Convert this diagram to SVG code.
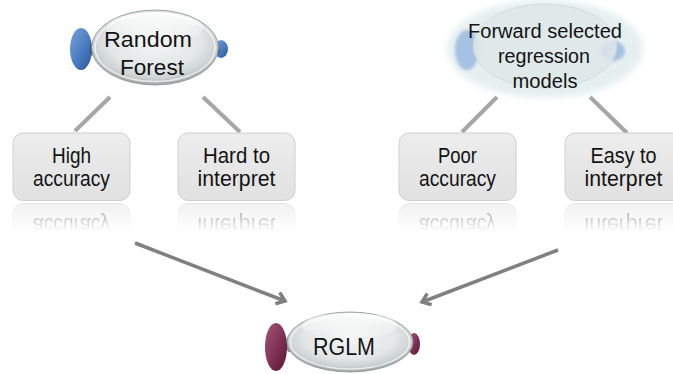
<svg xmlns="http://www.w3.org/2000/svg" xmlns:xlink="http://www.w3.org/1999/xlink" width="673" height="374" viewBox="0 0 673 374">
  <style>
    .lbl { font-family: "Liberation Sans", Arial, sans-serif; fill: #141414; text-anchor: middle; }
    .box { fill: url(#boxFill); stroke: #cfcfcf; stroke-width: 1; }
    .stem { stroke: #a6a6a6; stroke-width: 4; fill: none; }
    .arrow { stroke: #808080; stroke-width: 3.5; fill: none; marker-end: url(#chevron); }
    .pod { fill: url(#podFill); stroke: #8c9393; stroke-width: 0.8; }
    .rim { fill: none; stroke: #ffffff; stroke-opacity: 0.7; stroke-width: 1.5; }
    .gloss { fill: url(#glossFill); }
  </style>
  <defs>
    <linearGradient id="boxFill" x1="0" y1="0" x2="0" y2="1">
      <stop offset="0" stop-color="#ededed"/>
      <stop offset="1" stop-color="#e1e1e1"/>
    </linearGradient>
    <radialGradient id="podFill" cx="0.5" cy="0.42" r="0.6">
      <stop offset="0" stop-color="#f4f6f6"/>
      <stop offset="0.6" stop-color="#e3e7e7"/>
      <stop offset="0.82" stop-color="#ccd1d1"/>
      <stop offset="1" stop-color="#8f9696"/>
    </radialGradient>
    <linearGradient id="glossFill" x1="0" y1="0" x2="0" y2="1">
      <stop offset="0" stop-color="#ffffff" stop-opacity="0.9"/>
      <stop offset="1" stop-color="#ffffff" stop-opacity="0"/>
    </linearGradient>
    <linearGradient id="blueCap" x1="0" y1="0" x2="1" y2="1">
      <stop offset="0" stop-color="#7aa3dc"/>
      <stop offset="0.6" stop-color="#4677bd"/>
      <stop offset="1" stop-color="#2c558f"/>
    </linearGradient>
    <linearGradient id="wineCap" x1="0" y1="0" x2="1" y2="1">
      <stop offset="0" stop-color="#a5577a"/>
      <stop offset="0.6" stop-color="#7a2d50"/>
      <stop offset="1" stop-color="#55182f"/>
    </linearGradient>
    <linearGradient id="fadeGrad" gradientUnits="userSpaceOnUse" x1="0" y1="202" x2="0" y2="232">
      <stop offset="0" stop-color="#fff" stop-opacity="0.5"/>
      <stop offset="1" stop-color="#fff" stop-opacity="0"/>
    </linearGradient>
    <mask id="fade" maskUnits="userSpaceOnUse" x="0" y="0" width="673" height="374">
      <rect x="0" y="202" width="673" height="32" fill="url(#fadeGrad)"/>
    </mask>
    <filter id="soft" x="-20%" y="-20%" width="140%" height="140%">
      <feGaussianBlur stdDeviation="3"/>
    </filter>
    <filter id="softer" x="-30%" y="-30%" width="160%" height="160%">
      <feGaussianBlur stdDeviation="1.5"/>
    </filter>
    <marker id="chevron" markerUnits="userSpaceOnUse" markerWidth="16" markerHeight="16" refX="10" refY="7" orient="auto">
      <path d="M2,1 L10,7 L2,13" fill="none" stroke="#808080" stroke-width="3.5" stroke-linejoin="miter"/>
    </marker>
  </defs>

  <!-- connectors -->
  <g id="connectors">
    <line class="stem" x1="110" y1="97" x2="75" y2="131"/>
    <line class="stem" x1="203" y1="97" x2="240" y2="132"/>
    <line class="stem" x1="497" y1="97" x2="462" y2="132"/>
    <line class="stem" x1="590" y1="97" x2="627" y2="133"/>
    <line class="arrow" x1="135" y1="243" x2="285" y2="301"/>
    <line class="arrow" x1="558" y1="250" x2="422" y2="302"/>
  </g>

  <!-- Random Forest -->
  <g id="node-random-forest">
    <ellipse cx="81" cy="49" rx="11" ry="21" fill="url(#blueCap)"/>
    <ellipse cx="221" cy="49" rx="7" ry="9" fill="url(#blueCap)"/>
    <ellipse cx="93" cy="49" rx="3" ry="7" fill="#333" opacity="0.6"/>
    <ellipse cx="217" cy="49" rx="2.5" ry="6" fill="#333" opacity="0.6"/>
    <ellipse class="pod" cx="155" cy="47.5" rx="63.5" ry="37.5"/>
    <ellipse class="rim" cx="155" cy="47.5" rx="60" ry="34"/>
    <ellipse class="gloss" cx="155" cy="28" rx="48" ry="16"/>
    <text class="lbl" x="148" y="47" font-size="22.5" textLength="88" lengthAdjust="spacingAndGlyphs">Random</text>
    <text class="lbl" x="152" y="75" font-size="22.5" textLength="64" lengthAdjust="spacingAndGlyphs">Forest</text>
  </g>

  <!-- Forward selected regression models -->
  <g id="node-forward">
    <ellipse cx="545" cy="49" rx="98" ry="49" fill="#e6eff0" filter="url(#soft)"/>
    <ellipse cx="467" cy="50" rx="12" ry="20" fill="#95b6e0" opacity="0.8" filter="url(#softer)"/>
    <ellipse cx="613" cy="51" rx="12" ry="10" fill="#95b6e0" opacity="0.8" filter="url(#softer)"/>
    <ellipse cx="545" cy="46" rx="72" ry="42" fill="#dfe8e8" stroke="#cfdada" stroke-width="1" opacity="0.85"/>
    <text class="lbl" x="545" y="38" font-size="20" textLength="154" lengthAdjust="spacingAndGlyphs">Forward selected</text>
    <text class="lbl" x="544" y="63" font-size="20" textLength="92" lengthAdjust="spacingAndGlyphs">regression</text>
    <text class="lbl" x="545" y="88" font-size="20" textLength="65" lengthAdjust="spacingAndGlyphs">models</text>
  </g>

  <!-- High accuracy -->
  <g id="node-high-accuracy">
    <g id="face-high">
      <rect class="box" x="13" y="133" width="117" height="67.5" rx="10"/>
      <text class="lbl" x="71.5" y="162.5" font-size="22.5" textLength="39" lengthAdjust="spacingAndGlyphs">High</text>
      <text class="lbl" x="71.5" y="186" font-size="22.5" textLength="77" lengthAdjust="spacingAndGlyphs">accuracy</text>
    </g>
    <g mask="url(#fade)">
      <use xlink:href="#face-high" transform="translate(0,404) scale(1,-1)"/>
    </g>
  </g>

  <!-- Hard to interpret -->
  <g id="node-hard">
    <g id="face-hard">
      <rect class="box" x="178" y="133" width="117" height="67.5" rx="10"/>
      <text class="lbl" x="236.5" y="162.5" font-size="22.5" textLength="67" lengthAdjust="spacingAndGlyphs">Hard to</text>
      <text class="lbl" x="236.5" y="186" font-size="22.5" textLength="78" lengthAdjust="spacingAndGlyphs">interpret</text>
    </g>
    <g mask="url(#fade)">
      <use xlink:href="#face-hard" transform="translate(0,404) scale(1,-1)"/>
    </g>
  </g>

  <!-- Poor accuracy -->
  <g id="node-poor">
    <g id="face-poor">
      <rect class="box" x="399" y="133" width="117" height="67.5" rx="10"/>
      <text class="lbl" x="457.5" y="162.5" font-size="22.5" textLength="39" lengthAdjust="spacingAndGlyphs">Poor</text>
      <text class="lbl" x="457.5" y="186" font-size="22.5" textLength="77" lengthAdjust="spacingAndGlyphs">accuracy</text>
    </g>
    <g mask="url(#fade)">
      <use xlink:href="#face-poor" transform="translate(0,404) scale(1,-1)"/>
    </g>
  </g>

  <!-- Easy to interpret -->
  <g id="node-easy">
    <g id="face-easy">
      <rect class="box" x="565" y="133" width="117" height="67.5" rx="10"/>
      <text class="lbl" x="623.5" y="162.5" font-size="22.5" textLength="66" lengthAdjust="spacingAndGlyphs">Easy to</text>
      <text class="lbl" x="623.5" y="186" font-size="22.5" textLength="78" lengthAdjust="spacingAndGlyphs">interpret</text>
    </g>
    <g mask="url(#fade)">
      <use xlink:href="#face-easy" transform="translate(0,404) scale(1,-1)"/>
    </g>
  </g>

  <!-- RGLM -->
  <g id="node-rglm">
    <ellipse cx="276" cy="347" rx="11" ry="24" fill="url(#wineCap)"/>
    <ellipse cx="414" cy="344" rx="6" ry="11" fill="url(#wineCap)"/>
    <ellipse cx="289" cy="344" rx="3" ry="8" fill="#333" opacity="0.6"/>
    <ellipse class="pod" cx="350" cy="342" rx="63" ry="30"/>
    <ellipse class="rim" cx="350" cy="342" rx="59.5" ry="27"/>
    <ellipse class="gloss" cx="350" cy="326" rx="48" ry="13"/>
    <text class="lbl" x="344" y="355" font-size="23" textLength="62" lengthAdjust="spacingAndGlyphs">RGLM</text>
  </g>
</svg>
